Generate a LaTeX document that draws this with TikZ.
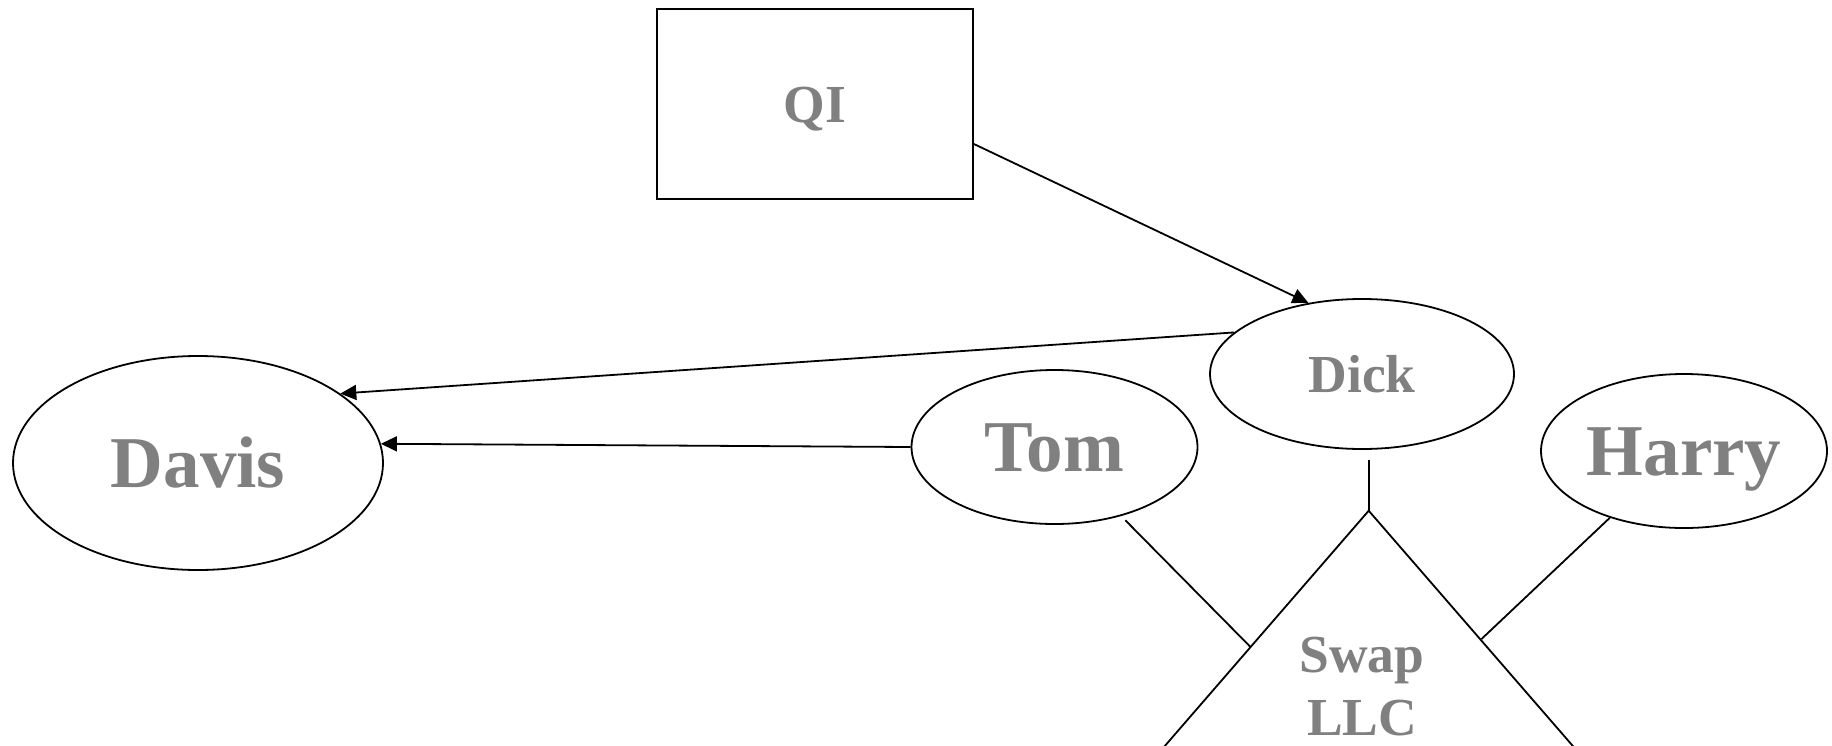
\documentclass[tikz,border=0pt]{standalone}
\usepackage{fontspec}
\setmainfont{Liberation Serif}
\usetikzlibrary{shapes.geometric,arrows.meta,calc}
\definecolor{txtgray}{HTML}{808080}
\tikzset{
  ent/.style={draw, line width=1.8pt, shape=ellipse, inner sep=0pt, text=txtgray, text depth=0pt},
  box/.style={draw, line width=1.8pt, shape=rectangle, inner sep=0pt, text=txtgray, text depth=0pt},
  bigtxt/.style={font=\bfseries\fontsize{73pt}{80pt}\selectfont, text height=48pt},
  smalltxt/.style={font=\bfseries\fontsize{53.5pt}{64pt}\selectfont, text height=36pt},
  conn/.style={line width=1.8pt},
  arr/.style={conn, -{Triangle[length=16pt,width=15pt]}}
}
\begin{document}
\begin{tikzpicture}[x=1pt,y=-1pt]
\useasboundingbox (0,0) rectangle (1832,745);
\clip (0,0) rectangle (1832,745);
% nodes
\node[box, smalltxt, minimum width=316pt, minimum height=190pt] (qi) at (815,104) {QI};
\node[ent, smalltxt, minimum width=304pt, minimum height=150pt] (dick) at (1362,374) {Dick};
\node[ent, bigtxt, minimum width=286pt, minimum height=154pt] (tom) at (1054.5,447) {Tom};
\node[ent, bigtxt, minimum width=286pt, minimum height=154pt] (harry) at (1684,451) {Harry};
\node[ent, bigtxt, minimum width=370pt, minimum height=214pt] (davis) at (198,463) {Davis};
% triangle (Swap LLC)
\coordinate (apex) at (1368.7,510.7);
\coordinate (tbl) at (1118,800);
\coordinate (tbr) at (1619.7,800);
\draw[conn, line join=miter] (tbl) -- (apex) -- (tbr);
\node[text=txtgray, font=\bfseries\fontsize{53.5pt}{63pt}\selectfont, inner sep=0pt, align=center, anchor=base] (swap) at (1362,735.5) {Swap\\LLC};
\coordinate (tomfoot) at (1250.5,647);
\coordinate (harryfoot) at (1481.5,639);
% connectors
\draw[arr] ($(qi.east)+(0,40)$) -- (dick.127);
\draw[arr] (dick.162) -- (davis.26);
\draw[arr] (tom.west) -- (davis.6);
\draw[conn, shorten <=6pt] (tom.-46) -- (tomfoot);
\draw[conn] (harry.222) -- (harryfoot);
\draw[conn, shorten <=10pt] (apex |- dick.south) -- (apex);
\end{tikzpicture}
\end{document}
